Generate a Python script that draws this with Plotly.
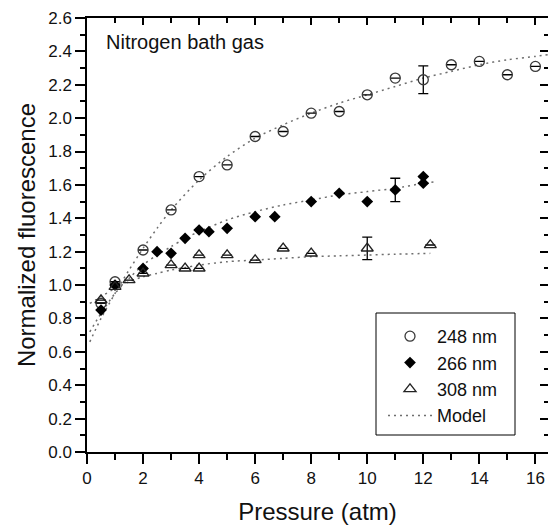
import plotly.graph_objects as go

# ---- data ----
p248 = [0.5, 1, 2, 3, 4, 5, 6, 7, 8, 9, 10, 11, 12, 13, 14, 15, 16]
f248 = [0.89, 1.02, 1.21, 1.45, 1.65, 1.72, 1.89, 1.92, 2.03, 2.04, 2.14, 2.24, 2.23, 2.32, 2.34, 2.26, 2.31]
e248 = [None, None, None, None, None, None, None, None, None, None, None, None, 0.083, None, None, None, None]

p266 = [0.5, 1, 2, 2.5, 3, 3.5, 4, 4.35, 5, 6, 6.7, 8, 9, 10, 11, 12, 12]
f266 = [0.85, 1.0, 1.10, 1.20, 1.19, 1.28, 1.33, 1.32, 1.34, 1.41, 1.41, 1.50, 1.55, 1.50, 1.57, 1.61, 1.65]
e266 = [None, None, None, None, None, None, None, None, None, None, None, None, None, None, 0.07, None, None]

p308 = [0.5, 1, 1.5, 2, 3, 3.5, 4, 4, 5, 6, 7, 8, 10, 12.25]
f308 = [0.91, 0.99, 1.03, 1.07, 1.12, 1.10, 1.10, 1.18, 1.18, 1.15, 1.22, 1.19, 1.22, 1.24]
e308 = [None, None, None, None, None, None, None, None, None, None, None, None, 0.067, None]

m248_p = [0.1, 0.5, 1, 1.5, 2, 2.5, 3, 4, 5, 6, 7, 8, 9, 10, 11, 12, 13, 14, 15, 16, 16.45]
m248_f = [0.66, 0.80, 0.95, 1.09, 1.22, 1.34, 1.45, 1.63, 1.77, 1.88, 1.96, 2.03, 2.09, 2.14, 2.19, 2.24, 2.28, 2.32, 2.35, 2.37, 2.38]
m266_p = [0.1, 0.5, 1, 1.5, 2, 2.5, 3, 3.5, 4, 5, 6, 7, 8, 9, 10, 11, 12, 12.45]
m266_f = [0.72, 0.83, 0.95, 1.04, 1.12, 1.18, 1.23, 1.28, 1.32, 1.39, 1.44, 1.48, 1.51, 1.54, 1.56, 1.58, 1.61, 1.62]
m308_p = [0.1, 0.5, 1, 1.5, 2, 2.5, 3, 3.5, 4, 5, 6, 7, 8, 9, 10, 11, 12.25]
m308_f = [0.89, 0.93, 0.98, 1.02, 1.05, 1.07, 1.09, 1.105, 1.12, 1.14, 1.15, 1.16, 1.17, 1.175, 1.18, 1.185, 1.19]

FONT = "Liberation Sans, Arial, sans-serif"
TXT = "#111"
XR = [0, 16.45]
YR = [0, 2.6]

fig = go.Figure()

model_line = dict(color="#6e6e6e", width=1.5, dash="2px,4px", shape="spline", smoothing=0.8)
for i, (mp, mf) in enumerate([(m248_p, m248_f), (m266_p, m266_f), (m308_p, m308_f)]):
    fig.add_trace(go.Scatter(x=mp, y=mf, mode="lines", line=model_line,
                             name="Model", showlegend=(i == 0), legendrank=4))

err_style = dict(type="data", visible=True, color="black", thickness=1.3, width=5)

fig.add_trace(go.Scatter(x=p248, y=f248, mode="markers", name="248 nm", legendrank=1,
                         marker=dict(symbol="circle-open", size=10, color="#3a3a3a", line=dict(width=1.3)),
                         error_y=dict(array=e248, **err_style)))
fig.add_trace(go.Scatter(x=p266, y=f266, mode="markers", name="266 nm", legendrank=2,
                         marker=dict(symbol="diamond", size=9, color="black"),
                         error_y=dict(array=e266, **err_style)))
fig.add_trace(go.Scatter(x=p308, y=f308, mode="markers", name="308 nm", legendrank=3,
                         marker=dict(symbol="triangle-up-open", size=10.5, color="#222", line=dict(width=1.3)),
                         error_y=dict(array=e308, **err_style)))

# empty trace to host the mirrored top/right axes
fig.add_trace(go.Scatter(x=[], y=[], xaxis="x2", yaxis="y2", showlegend=False, hoverinfo="skip"))

L, R, T, B = 87, 0, 18, 76
W, H = 548, 528
pw, ph = W - L - R, H - T - B

def px_x(px):
    return (px - L) / pw

def px_y(py):
    return (H - B - py) / ph

fig.update_layout(
    width=W, height=H,
    margin=dict(l=L, r=R, t=T, b=B, pad=0),
    paper_bgcolor="white", plot_bgcolor="white",
    font=dict(family=FONT, color=TXT, size=17),
    xaxis=dict(range=XR, showgrid=False, zeroline=False, showline=True, linecolor="black", linewidth=1.5,
               ticks="outside", ticklen=10, tickwidth=1.5, tickcolor="black", dtick=2, tick0=0,
               tickfont=dict(size=17, family=FONT, color=TXT),
               minor=dict(ticks="outside", ticklen=6, tickwidth=1.5, tickcolor="black", dtick=1, showgrid=False),
               title=dict(text="Pressure (atm)", font=dict(size=24, family=FONT, color=TXT), standoff=16)),
    yaxis=dict(range=YR, showgrid=False, zeroline=False, showline=True, linecolor="black", linewidth=1.5,
               ticks="outside", ticklen=10, tickwidth=1.5, tickcolor="black", dtick=0.2, tick0=0,
               tickformat=".1f", tickfont=dict(size=17, family=FONT, color=TXT),
               minor=dict(ticks="outside", ticklen=5, tickwidth=1.5, tickcolor="black", dtick=0.1, showgrid=False),
               title=dict(text="Normalized fluorescence", font=dict(size=24, family=FONT, color=TXT), standoff=6)),
    xaxis2=dict(range=XR, overlaying="x", side="top", anchor="y2", showgrid=False, zeroline=False,
                showline=True, linecolor="black", linewidth=1.5, showticklabels=False,
                ticks="inside", ticklen=7, tickwidth=1.5, tickcolor="black", dtick=2, tick0=0,
                minor=dict(ticks="inside", ticklen=5, tickwidth=1.5, tickcolor="black", dtick=1, showgrid=False)),
    yaxis2=dict(range=YR, overlaying="y", side="right", anchor="x2", showgrid=False, zeroline=False,
                showline=True, linecolor="black", linewidth=1.5, showticklabels=False,
                ticks="inside", ticklen=8, tickwidth=1.5, tickcolor="black", dtick=0.2, tick0=0,
                minor=dict(ticks="inside", ticklen=4, tickwidth=1.5, tickcolor="black", dtick=0.1, showgrid=False)),
    legend=dict(x=px_x(383), y=px_y(318), xanchor="left", yanchor="top",
                bgcolor="rgba(0,0,0,0)", borderwidth=0, itemwidth=44,
                font=dict(size=18, family=FONT, color=TXT), tracegroupgap=0),
    shapes=[dict(type="rect", xref="paper", yref="paper",
                 x0=px_x(376), x1=px_x(515), y0=px_y(435), y1=px_y(313),
                 line=dict(color="black", width=1), fillcolor="white", layer="below")],
    annotations=[dict(text="Nitrogen bath gas", xref="paper", yref="paper",
                      x=px_x(104), y=px_y(42), xanchor="left", yanchor="middle", showarrow=False,
                      font=dict(size=20, family=FONT, color=TXT))],
)

fig.write_html("out.html")
